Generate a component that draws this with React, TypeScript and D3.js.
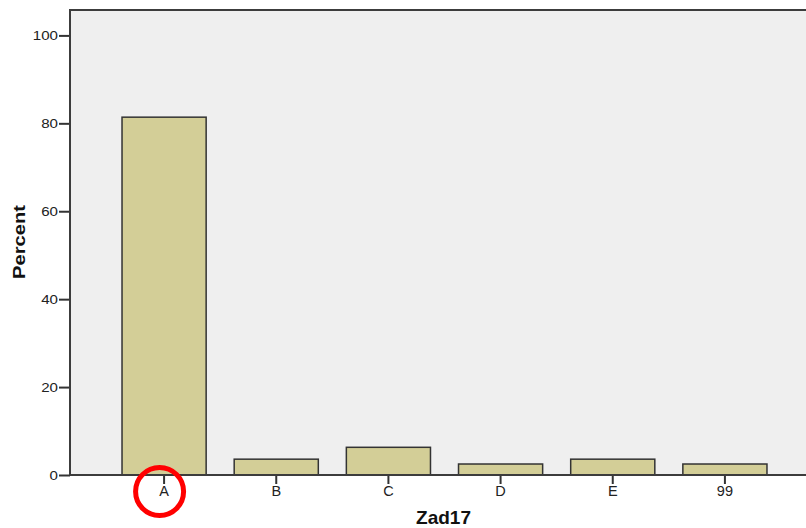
import { useEffect, useRef } from 'react'
import * as d3 from 'd3'

const categories = ['A', 'B', 'C', 'D', 'E', '99']
const percents = [81.4, 3.6, 6.3, 2.5, 3.6, 2.5]
const yTicks = [0, 20, 40, 60, 80, 100]
const xTitle = 'Zad17'
const yTitle = 'Percent'
const highlighted = 'A'

const W = 806
const H = 528
const PLOT = { left: 70, top: 10, right: 810, bottom: 475 }
const FONT = '"Liberation Sans", Arial, sans-serif'

export default function App() {
  const svgRef = useRef<SVGSVGElement>(null)

  useEffect(() => {
    if (!svgRef.current) return
    const svg = d3.select(svgRef.current)
    svg.selectAll('*').remove()

    const x = d3.scaleBand<string>()
      .domain(categories)
      .range([108, 781])
      .paddingInner(0.25)
      .paddingOuter(0.125)
    const y = d3.scaleLinear().domain([0, 100]).range([PLOT.bottom, 35.4])

    // plot background
    svg.append('rect')
      .attr('x', PLOT.left).attr('y', PLOT.top)
      .attr('width', PLOT.right - PLOT.left).attr('height', PLOT.bottom - PLOT.top)
      .attr('fill', '#efefef')
      .attr('stroke', '#3c3c3c').attr('stroke-width', 2)

    // bars
    svg.selectAll('.bar').data(categories).join('rect')
      .attr('x', d => x(d)!)
      .attr('y', (_, i) => y(percents[i]))
      .attr('width', x.bandwidth())
      .attr('height', (_, i) => y(0) - y(percents[i]))
      .attr('fill', '#d3ce97')
      .attr('stroke', '#333')
      .attr('stroke-width', 1.5)

    // y axis (labels drawn a bit wide, like the original)
    const ya = svg.append('g')
      .attr('transform', `translate(${PLOT.left},0)`)
      .call(d3.axisLeft(y).tickValues(yTicks).tickSize(11).tickPadding(1))
    ya.select('.domain').remove()
    ya.selectAll('.tick line').attr('stroke', '#333').attr('stroke-width', 2)
    ya.selectAll('.tick text')
      .attr('font-family', FONT).attr('font-size', 12.6).attr('fill', '#222')
      .attr('x', -12 / 1.2)
      .attr('transform', 'scale(1.2,1)')

    // x axis
    const xa = svg.append('g')
      .attr('transform', `translate(0,${PLOT.bottom})`)
      .call(d3.axisBottom(x).tickSize(9).tickPadding(2))
    xa.select('.domain').remove()
    xa.selectAll('.tick line').attr('stroke', '#333').attr('stroke-width', 2)
    xa.selectAll('.tick text').attr('font-family', FONT).attr('font-size', 14.5).attr('fill', '#222')

    // axis lines
    svg.append('line')
      .attr('x1', PLOT.left).attr('x2', PLOT.left)
      .attr('y1', PLOT.top).attr('y2', PLOT.bottom)
      .attr('stroke', '#3c3c3c').attr('stroke-width', 2)
    svg.append('line')
      .attr('x1', PLOT.left).attr('x2', W)
      .attr('y1', PLOT.bottom).attr('y2', PLOT.bottom)
      .attr('stroke', '#3c3c3c').attr('stroke-width', 2)

    // titles
    svg.append('text')
      .attr('x', 443.5).attr('y', 524)
      .attr('text-anchor', 'middle')
      .attr('font-family', FONT).attr('font-weight', 'bold').attr('font-size', 19)
      .attr('fill', '#111')
      .text(xTitle)
    svg.append('text')
      .attr('transform', `translate(24.5,242) rotate(-90)`)
      .attr('text-anchor', 'middle')
      .attr('font-family', FONT).attr('font-weight', 'bold').attr('font-size', 16)
      .attr('textLength', 74).attr('lengthAdjust', 'spacingAndGlyphs')
      .attr('fill', '#111')
      .text(yTitle)

    // highlight circle
    svg.append('circle')
      .attr('cx', x(highlighted)! + x.bandwidth() / 2 - 4.5)
      .attr('cy', 491.5)
      .attr('r', 24)
      .attr('fill', 'none')
      .attr('stroke', '#ff0000')
      .attr('stroke-width', 5)
  }, [])

  return (
    <svg
      ref={svgRef}
      width={W}
      height={H}
      style={{ display: 'block', position: 'absolute', left: 0, top: 0, background: '#fff' }}
    />
  )
}
